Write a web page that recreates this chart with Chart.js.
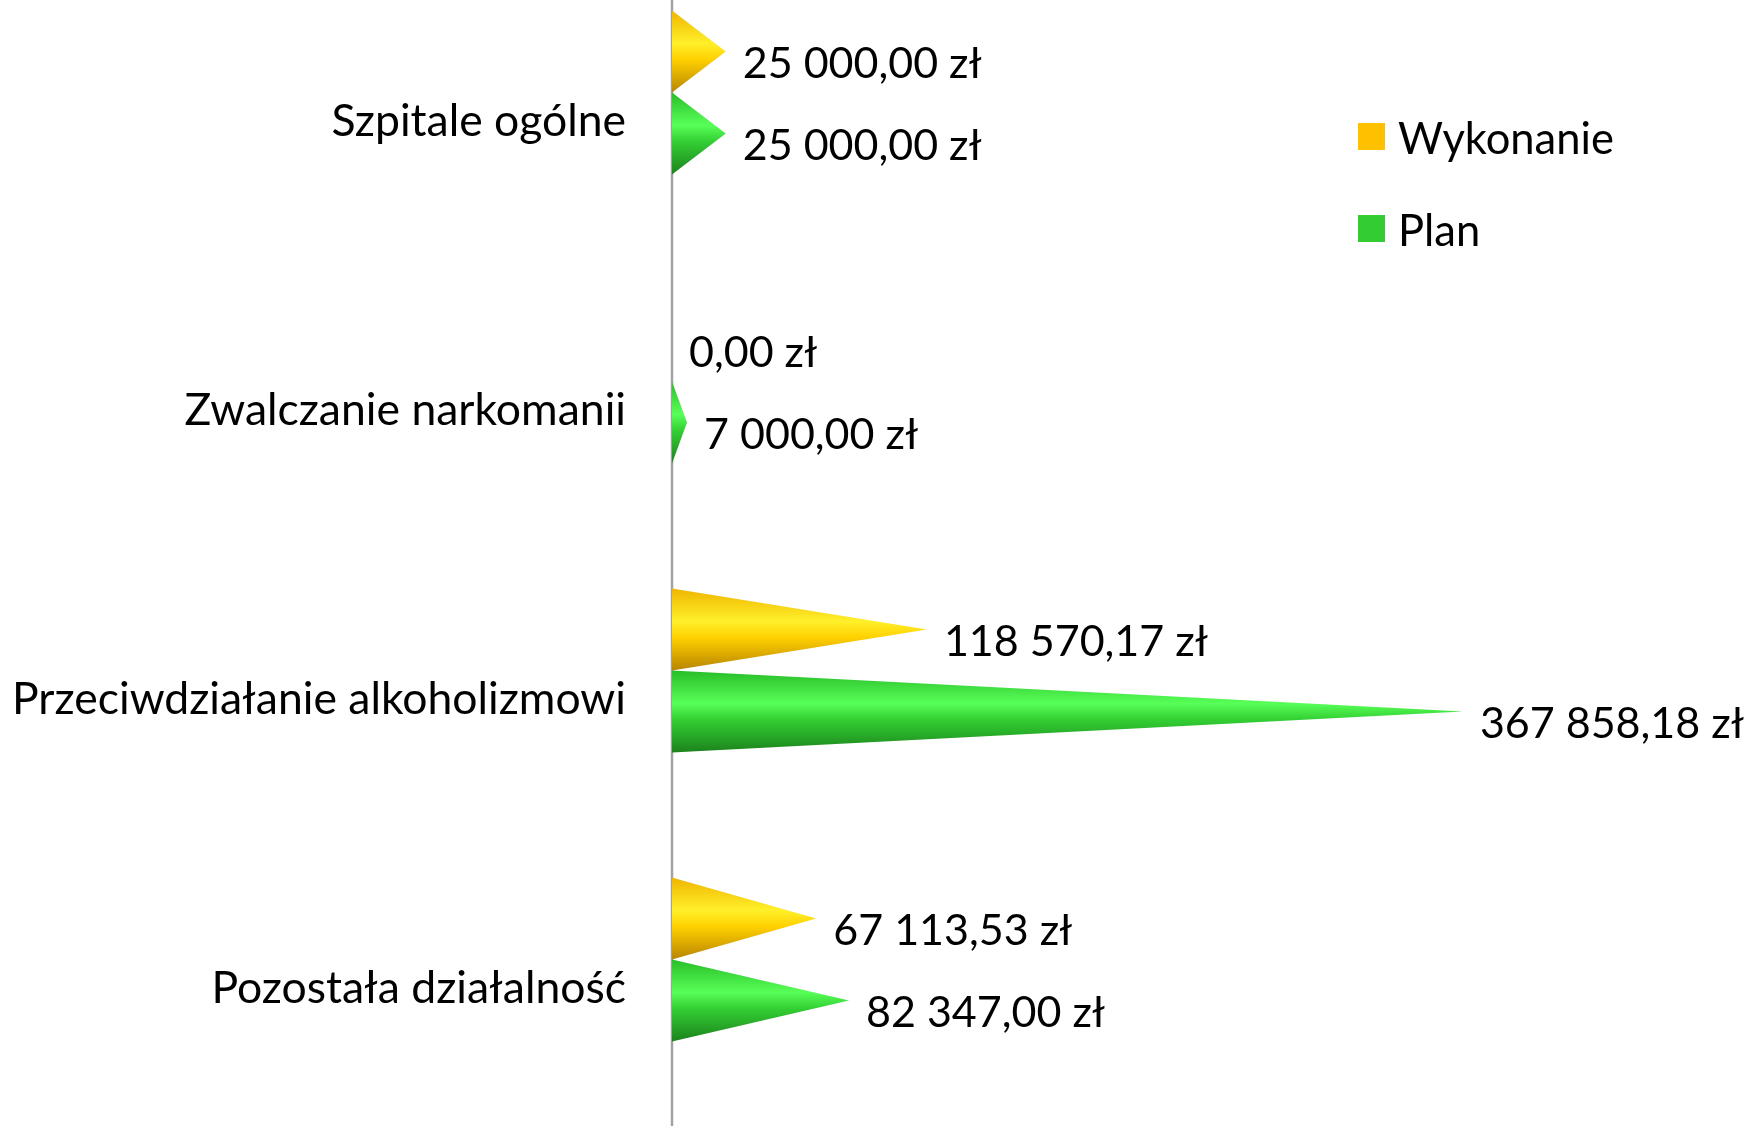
<!DOCTYPE html>
<html>
<head>
<meta charset="utf-8">
<script src="https://cdn.jsdelivr.net/npm/chart.js@4.4.1/dist/chart.umd.min.js"></script>
<style>
    body { margin: 0; background: #fff; overflow: hidden; }
    #wrap { position: absolute; left: 0; top: -52px; width: 1744px; height: 1178px; }
    #legend { position: absolute; left: 1358px; top: 113px; font-family: Lato, sans-serif; font-size: 43.5px; color: #000; }
    .item { display: flex; align-items: center; height: 47px; margin-bottom: 45px; }
    .box { width: 27px; height: 27px; margin-right: 13px; }
</style>
</head>
<body>
<div id="wrap"><canvas id="myChart"></canvas></div>
<div id="legend"></div>
<script>
const categories = ["Szpitale ogólne", "Zwalczanie narkomanii", "Przeciwdziałanie alkoholizmowi", "Pozostała działalność"]
const wykonanie = [25000, 0, 118570.17, 67113.53]
const plan = [25000, 7000, 367858.18, 82347]
const seriesNames = ["Wykonanie", "Plan"]
const legendColors = ["#FFC000", "#33CC33"]

// kolory stozkow: gora, blask, srodek, dol
const coneStops = [
    ["#efb500", "#fff02a", "#ffd000", "#b88400"],
    ["#28bd28", "#58ff58", "#33cf33", "#1c821c"],
]

function formatZl(v) {
    let parts = v.toFixed(2).split(".")
    let whole = parts[0].replace(/\B(?=(\d{3})+(?!\d))/g, " ")
    return whole + "," + parts[1] + " zł"
}

const axisLine = {
    id: "axisLine",
    beforeDatasetsDraw(chart) {
        const ctx = chart.ctx
        const x = chart.scales.x.getPixelForValue(0)
        ctx.save()
        ctx.strokeStyle = "#a3a3a3"
        ctx.lineWidth = 2.5
        ctx.beginPath()
        ctx.moveTo(x, 0)
        ctx.lineTo(x, chart.height)
        ctx.stroke()
        ctx.restore()
    },
}

const cones = {
    id: "cones",
    afterDatasetsDraw(chart) {
        const ctx = chart.ctx
        chart.data.datasets.forEach((ds, i) => {
            const meta = chart.getDatasetMeta(i)
            meta.data.forEach((bar, j) => {
                const p = bar.getProps(["x", "y", "base", "height"], true)
                const top = p.y - p.height / 2
                const bottom = p.y + p.height / 2
                if (p.x - p.base > 0.5) {
                    const g = ctx.createLinearGradient(0, top, 0, bottom)
                    const s = coneStops[i]
                    g.addColorStop(0, s[0])
                    g.addColorStop(0.4, s[1])
                    g.addColorStop(0.6, s[2])
                    g.addColorStop(1, s[3])
                    ctx.save()
                    ctx.fillStyle = g
                    ctx.beginPath()
                    ctx.moveTo(p.base, top)
                    ctx.lineTo(p.x, p.y)
                    ctx.lineTo(p.base, bottom)
                    ctx.closePath()
                    ctx.fill()
                    ctx.restore()
                }
                // etykieta wartosci
                ctx.save()
                ctx.font = "43px Lato, sans-serif"
                ctx.fillStyle = "#000"
                ctx.textAlign = "left"
                ctx.textBaseline = "middle"
                ctx.fillText(formatZl(ds.data[j]), p.x + 17, p.y + 13)
                ctx.restore()
            })
        })
    },
}

const canvasChart = document.getElementById("myChart").getContext("2d")

const myChart = new Chart(canvasChart, {
    type: "bar",
    data: {
        labels: categories,
        datasets: [
            { label: seriesNames[0], data: wykonanie, backgroundColor: "rgba(0,0,0,0)" },
            { label: seriesNames[1], data: plan, backgroundColor: "rgba(0,0,0,0)" },
        ],
    },
    options: {
        indexAxis: "y",
        responsive: true,
        maintainAspectRatio: false,
        animation: false,
        layout: { padding: { left: 0, right: 212, top: 0, bottom: 22 } },
        datasets: { bar: { barPercentage: 1, categoryPercentage: 0.567 } },
        plugins: { legend: { display: false }, tooltip: { enabled: false } },
        scales: {
            x: { display: false, min: 0, max: 400000 },
            y: {
                grid: { display: false, drawTicks: false },
                border: { display: false },
                ticks: {
                    color: "#000",
                    font: { family: "Lato", size: 44.5 },
                    padding: 46,
                    labelOffset: 29,
                },
                afterFit(scale) {
                    scale.width = 672
                    scale.paddingTop = 0
                    scale.paddingBottom = 0
                },
            },
        },
    },
    plugins: [axisLine, cones],
})

// legenda
const legendBox = document.getElementById("legend")
seriesNames.forEach((name, i) => {
    const item = document.createElement("div")
    item.className = "item"
    item.innerHTML = `<div class="box" style="background:${legendColors[i]}"></div><span>${name}</span>`
    legendBox.appendChild(item)
})
</script>
</body>
</html>
